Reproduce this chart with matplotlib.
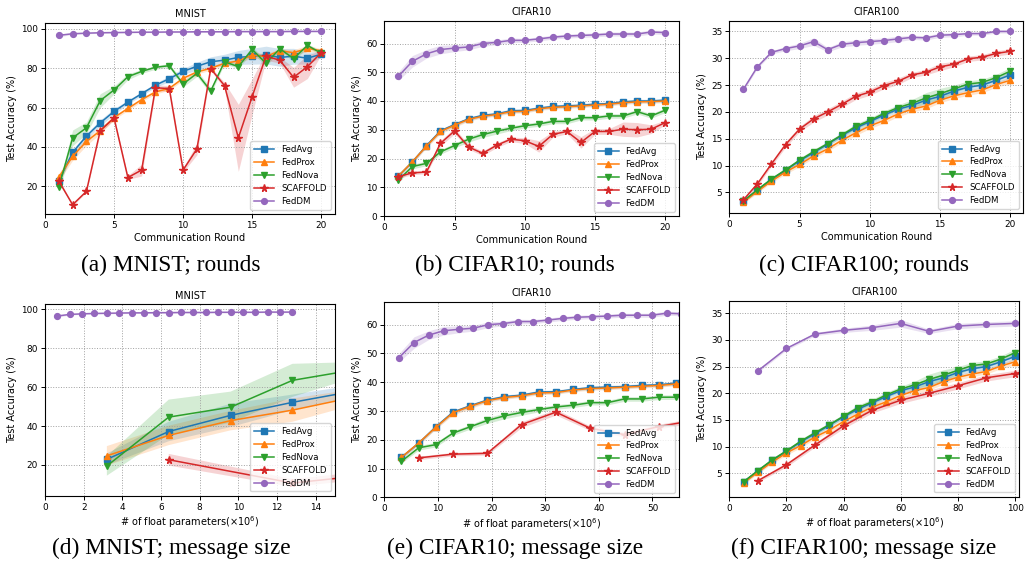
import matplotlib
matplotlib.use('Agg')
import matplotlib.pyplot as plt
import numpy as np

# ---------------- data ----------------
rounds = [1, 2, 3, 4, 5, 6, 7, 8, 9, 10, 11, 12, 13, 14, 15, 16, 17, 18, 19, 20]
methods = ['FedAvg', 'FedProx', 'FedNova', 'SCAFFOLD', 'FedDM']

# MNIST (test accuracy % per round)
mnist_fedavg = [22.9, 37.2, 45.5, 52.2, 58.0, 62.7, 67.0, 71.3, 74.6, 78.3, 80.9, 83.2, 84.0, 85.4, 86.0, 86.6, 85.4, 86.0, 85.0, 87.0]
mnist_fedprox = [24.7, 35.2, 42.8, 48.2, 54.9, 59.5, 64.0, 67.9, 69.7, 74.8, 78.0, 79.9, 82.4, 83.6, 86.6, 85.8, 88.8, 87.8, 90.0, 88.8]
mnist_fednova = [19.5, 44.6, 49.7, 63.5, 68.9, 75.6, 78.3, 80.4, 81.2, 71.9, 77.3, 68.4, 83.2, 80.7, 89.5, 82.4, 89.8, 84.8, 91.5, 87.5]
mnist_scaffold = [22.7, 10.7, 17.5, 48.3, 54.7, 24.5, 28.3, 70.0, 69.6, 28.3, 39.0, 79.7, 71.1, 44.6, 65.5, 86.0, 84.0, 75.3, 80.7, 87.8]
mnist_feddm = [96.6, 97.4, 97.7, 97.9, 98.0, 98.1, 98.2, 98.2, 98.3, 98.3, 98.4, 98.4, 98.4, 98.5, 98.5, 98.5, 98.5, 98.6, 98.6, 98.6]
# std bands
mnist_fedavg_sd = [1.0, 1.5, 1.5, 1.5, 1.5, 1.0, 1.0, 1.0, 1.5, 1.5, 2.0, 2.5, 3.0, 3.5, 4.0, 4.5, 4.5, 4.0, 3.0, 1.5]
mnist_fedprox_sd = [2.0, 2.0, 2.0, 1.5, 1.0, 1.0, 1.0, 1.0, 1.0, 1.0, 1.0, 1.0, 1.0, 1.0, 1.5, 1.5, 1.0, 1.5, 1.5, 1.0]
mnist_fednova_sd = [2.0, 4.0, 3.0, 3.5, 2.0, 1.5, 1.0, 1.0, 1.0, 1.5, 1.5, 1.5, 1.0, 1.0, 1.5, 1.5, 1.0, 1.5, 1.0, 1.0]
mnist_scaffold_sd = [1.0, 0.5, 0.5, 1.0, 1.0, 1.0, 3.0, 1.5, 1.5, 1.0, 3.0, 1.0, 1.5, 17.0, 9.0, 2.0, 1.5, 5.0, 6.0, 1.0]
mnist_feddm_sd = [0.8, 0.3, 0.3, 0.3, 0.3, 0.3, 0.3, 0.3, 0.3, 0.3, 0.3, 0.3, 0.3, 0.3, 0.3, 0.3, 0.3, 0.3, 0.3, 0.3]
# std bands of the message-size MNIST panel
mnist_msg_fedavg_sd = [3.0, 5.0, 6.0, 4.0, 3.0, 3.0, 3.0, 3.0, 3.0, 3.0, 3.0, 3.0, 3.0, 3.0, 3.0, 3.0, 3.0, 3.0, 3.0, 3.0]
mnist_msg_fedprox_sd = [5.0, 5.0, 5.0, 6.0, 4.0, 4.0, 4.0, 4.0, 4.0, 4.0, 4.0, 4.0, 4.0, 4.0, 4.0, 4.0, 4.0, 4.0, 4.0, 4.0]
mnist_msg_fednova_sd = [5.0, 9.0, 8.0, 8.5, 4.0, 4.0, 4.0, 4.0, 4.0, 4.0, 4.0, 4.0, 4.0, 4.0, 4.0, 4.0, 4.0, 4.0, 4.0, 4.0]
mnist_msg_scaffold_sd = [3.0, 2.0, 2.0, 2.0, 2.0, 2.0, 2.0, 2.0, 2.0, 2.0, 2.0, 2.0, 2.0, 2.0, 2.0, 2.0, 2.0, 2.0, 2.0, 2.0]
mnist_msg_feddm_sd = [0.6, 0.3, 0.3, 0.3, 0.3, 0.3, 0.3, 0.3, 0.3, 0.3, 0.3, 0.3, 0.3, 0.3, 0.3, 0.3, 0.3, 0.3, 0.3, 0.3]

# CIFAR10
cifar10_fedavg = [13.9, 18.8, 24.5, 29.6, 31.8, 33.8, 35.0, 35.5, 36.6, 36.7, 37.5, 38.1, 38.3, 38.5, 38.9, 39.1, 39.7, 40.0, 40.0, 40.3]
cifar10_fedprox = [13.9, 18.9, 24.3, 29.4, 31.6, 33.6, 34.7, 35.3, 36.3, 36.4, 37.3, 37.8, 38.0, 38.3, 38.6, 38.9, 39.4, 39.7, 39.8, 40.0]
cifar10_fednova = [12.5, 17.2, 18.3, 22.3, 24.5, 26.7, 28.3, 29.5, 30.5, 31.4, 32.0, 32.9, 32.9, 34.2, 34.2, 34.8, 34.8, 36.3, 34.8, 36.8]
cifar10_scaffold = [13.7, 15.0, 15.3, 25.3, 29.6, 24.0, 21.8, 24.6, 26.7, 26.2, 24.2, 28.4, 29.4, 25.6, 29.4, 29.4, 30.2, 30.0, 30.2, 32.5]
cifar10_feddm = [48.6, 53.8, 56.4, 57.9, 58.4, 58.8, 60.0, 60.4, 61.1, 61.1, 61.6, 62.2, 62.6, 62.8, 63.0, 63.3, 63.3, 63.3, 64.0, 63.8]
cifar10_fedavg_sd = [0.6, 0.6, 0.6, 0.6, 0.6, 0.6, 0.6, 0.6, 0.6, 0.6, 0.6, 0.6, 0.6, 0.6, 0.6, 0.6, 0.6, 0.6, 0.6, 0.6]
cifar10_fedprox_sd = [0.6, 0.6, 0.6, 0.8, 0.8, 0.6, 0.6, 0.6, 0.6, 0.6, 0.6, 0.6, 0.6, 0.6, 0.6, 0.6, 0.6, 0.6, 0.6, 0.6]
cifar10_fednova_sd = [0.6, 0.8, 0.8, 0.8, 0.8, 1.0, 1.0, 1.0, 0.8, 0.8, 0.8, 0.8, 0.8, 0.8, 0.8, 0.8, 0.8, 0.8, 0.8, 0.8]
cifar10_scaffold_sd = [0.6, 0.6, 0.6, 1.0, 1.0, 0.8, 0.8, 0.8, 0.8, 1.0, 2.0, 1.0, 0.8, 2.0, 1.0, 1.0, 2.5, 2.5, 1.5, 0.8]
cifar10_feddm_sd = [1.5, 2.0, 1.5, 1.5, 1.2, 1.0, 1.0, 0.8, 0.8, 0.7, 0.7, 0.7, 0.7, 0.7, 0.7, 0.7, 0.7, 0.7, 0.7, 0.7]

# CIFAR100
cifar100_fedavg = [3.4, 5.4, 7.4, 9.1, 10.9, 12.4, 14.0, 15.6, 17.0, 18.2, 19.4, 20.5, 21.2, 22.2, 22.9, 23.9, 24.6, 25.0, 25.9, 26.9]
cifar100_fedprox = [3.2, 5.2, 7.1, 8.8, 10.2, 11.8, 13.1, 14.7, 16.1, 17.4, 18.4, 19.6, 20.5, 21.1, 22.2, 23.0, 23.6, 24.1, 25.1, 25.9]
cifar100_fednova = [3.4, 5.5, 7.5, 9.2, 11.0, 12.6, 14.1, 15.7, 17.3, 18.4, 19.7, 20.8, 21.6, 22.6, 23.4, 24.3, 25.2, 25.5, 26.4, 27.6]
cifar100_scaffold = [3.6, 6.6, 10.3, 13.9, 16.8, 18.7, 20.0, 21.4, 22.9, 23.7, 24.9, 25.7, 26.9, 27.4, 28.4, 28.9, 29.9, 30.2, 30.9, 31.3]
cifar100_feddm = [24.2, 28.4, 31.1, 31.8, 32.3, 33.1, 31.6, 32.6, 32.9, 33.1, 33.3, 33.6, 33.9, 33.8, 34.3, 34.4, 34.6, 34.6, 35.0, 35.0]
cifar100_fedavg_sd = [0.3, 0.3, 0.3, 0.3, 0.4, 0.4, 0.4, 0.4, 0.5, 0.5, 0.5, 0.5, 0.6, 0.7, 0.8, 0.6, 0.6, 0.6, 0.6, 0.6]
cifar100_fedprox_sd = [0.3, 0.3, 0.3, 0.4, 0.4, 0.4, 0.4, 0.5, 0.5, 0.5, 0.5, 0.5, 0.5, 0.5, 0.5, 0.5, 0.5, 0.5, 0.5, 0.6]
cifar100_fednova_sd = [0.3, 0.3, 0.3, 0.3, 0.4, 0.4, 0.4, 0.4, 0.5, 0.5, 0.5, 0.5, 0.7, 1.0, 1.0, 0.7, 0.6, 0.6, 0.6, 0.7]
cifar100_scaffold_sd = [0.3, 0.4, 0.4, 0.5, 0.5, 0.6, 0.6, 0.6, 0.6, 0.6, 0.6, 0.6, 0.5, 0.5, 0.7, 0.5, 0.5, 0.5, 0.5, 0.5]
cifar100_feddm_sd = [0.3, 0.3, 0.3, 0.4, 0.5, 0.7, 0.4, 0.5, 0.5, 0.5, 0.5, 0.5, 0.4, 0.4, 0.4, 0.4, 0.3, 0.3, 0.3, 0.3]

# float parameters (x10^6) sent per round, per method (FedAvg, FedProx, FedNova, SCAFFOLD, FedDM)
mnist_msg_per_round = [3.2, 3.2, 3.2, 6.4, 0.64]
cifar10_msg_per_round = [3.2, 3.2, 3.2, 6.4, 2.77]
cifar100_msg_per_round = [5.0, 5.0, 5.0, 10.0, 10.0]

captions = ['(a) MNIST; rounds', '(b) CIFAR10; rounds', '(c) CIFAR100; rounds',
            '(d) MNIST; message size', '(e) CIFAR10; message size', '(f) CIFAR100; message size']

# ---------------- style ----------------
colors = ['#1f77b4', '#ff7f0e', '#2ca02c', '#d62728', '#9467bd']
markers = ['s', '^', 'v', '*', 'o']
msizes = [4.2, 4.5, 4.5, 5.5, 4.2]

W, H = 1025, 563
fig = plt.figure(figsize=(W / 100, H / 100), dpi=100)


def make_ax(l, r, t, b):
    return fig.add_axes([l / W, 1 - b / H, (r - l) / W, (b - t) / H])


def draw(ax, xs, means, sds, title, xlabel, xlim, ylim, xticks, yticks):
    for name, c, mk, ms, x, m, s in zip(methods, colors, markers, msizes, xs, means, sds):
        x = np.asarray(x, float)
        m = np.asarray(m, float)
        s = np.asarray(s, float)
        ax.fill_between(x, m - s, m + s, color=c, alpha=0.2, lw=0)
        ax.plot(x, m, color=c, marker=mk, ms=ms, lw=1.1, label=name)
    ax.set_xlim(*xlim)
    ax.set_ylim(*ylim)
    ax.set_xticks(xticks)
    ax.set_yticks(yticks)
    ax.grid(True, ls=':', color='#a0a0a0', lw=0.7)
    ax.tick_params(labelsize=6.4, length=3, width=0.7, pad=2)
    ax.set_title(title, fontsize=7, pad=4)
    ax.set_xlabel(xlabel, fontsize=7, labelpad=2)
    ax.set_ylabel('Test Accuracy (%)', fontsize=7, labelpad=3)
    for sp in ax.spines.values():
        sp.set_linewidth(0.8)
    ax.legend(loc='lower right', fontsize=6.2, handlelength=2.4, borderaxespad=0.5,
              labelspacing=0.45, borderpad=0.45)


r = np.asarray(rounds, float)

data = {
    'MNIST': ([mnist_fedavg, mnist_fedprox, mnist_fednova, mnist_scaffold, mnist_feddm],
              [mnist_fedavg_sd, mnist_fedprox_sd, mnist_fednova_sd, mnist_scaffold_sd, mnist_feddm_sd]),
    'CIFAR10': ([cifar10_fedavg, cifar10_fedprox, cifar10_fednova, cifar10_scaffold, cifar10_feddm],
                [cifar10_fedavg_sd, cifar10_fedprox_sd, cifar10_fednova_sd, cifar10_scaffold_sd, cifar10_feddm_sd]),
    'CIFAR100': ([cifar100_fedavg, cifar100_fedprox, cifar100_fednova, cifar100_scaffold, cifar100_feddm],
                 [cifar100_fedavg_sd, cifar100_fedprox_sd, cifar100_fednova_sd, cifar100_scaffold_sd, cifar100_feddm_sd]),
}

# top row: rounds
ax = make_ax(45, 335, 22.7, 214)
draw(ax, [r] * 5, *data['MNIST'], 'MNIST', 'Communication Round', (0, 21), (6, 103),
     [0, 5, 10, 15, 20], [20, 40, 60, 80, 100])
ax = make_ax(384.3, 679.3, 20.5, 216)
draw(ax, [r] * 5, *data['CIFAR10'], 'CIFAR10', 'Communication Round', (0, 21), (0, 68),
     [0, 5, 10, 15, 20], [0, 10, 20, 30, 40, 50, 60])
ax = make_ax(729.3, 1023, 20.7, 213.3)
draw(ax, [r] * 5, *data['CIFAR100'], 'CIFAR100', 'Communication Round', (0, 20.9), (1.1, 37),
     [0, 5, 10, 15, 20], [5, 10, 15, 20, 25, 30, 35])

# bottom row: message size
xlab = r'# of float parameters($\times10^6$)'
ax = make_ax(45, 335, 304.3, 495.7)
draw(ax, [r * k for k in mnist_msg_per_round], data['MNIST'][0],
     [mnist_msg_fedavg_sd, mnist_msg_fedprox_sd, mnist_msg_fednova_sd, mnist_msg_scaffold_sd, mnist_msg_feddm_sd],
     'MNIST', xlab, (0, 15), (4.2, 102.6), [0, 2, 4, 6, 8, 10, 12, 14], [20, 40, 60, 80, 100])
ax = make_ax(384.3, 679.3, 301.7, 497.3)
draw(ax, [r * k for k in cifar10_msg_per_round], *data['CIFAR10'], 'CIFAR10', xlab, (0, 55), (0, 68),
     [0, 10, 20, 30, 40, 50], [0, 10, 20, 30, 40, 50, 60])
ax = make_ax(729.3, 1019.3, 301, 496.7)
draw(ax, [r * k for k in cifar100_msg_per_round], *data['CIFAR100'], 'CIFAR100', xlab, (0, 101.5), (0.6, 37.3),
     [0, 20, 40, 60, 80, 100], [5, 10, 15, 20, 25, 30, 35])

# captions
cx = [171, 515, 864]
for i, cap in enumerate(captions):
    y = 265 if i < 3 else 548
    fig.text(cx[i % 3] / W, 1 - y / H, cap, ha='center', va='center',
             fontfamily='Liberation Serif', fontsize=16.8)

fig.savefig('out.png', dpi=100)
